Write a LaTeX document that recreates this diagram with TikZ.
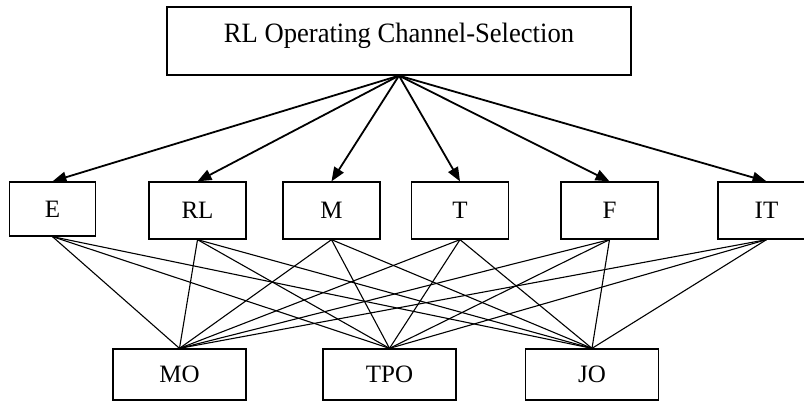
\documentclass[tikz,border=0pt]{standalone}
\usepackage{fontspec}
\setmainfont{Liberation Serif}
\newfontfamily\selfont[FakeStretch=0.95]{Liberation Serif}
\usetikzlibrary{arrows.meta,positioning}

\begin{document}
\begin{tikzpicture}[x=1pt,y=-1pt,
	box/.style={draw,line width=1.3pt,inner sep=0pt,minimum width=97pt,minimum height=57pt,font=\fontsize{25}{30}\selectfont},
	outbox/.style={box,minimum width=133pt,minimum height=51pt},
	arr/.style={line width=1.8pt,-{Triangle[length=14pt,width=11pt]}},
	link/.style={line width=1.1pt}]
	\useasboundingbox (0,0) rectangle (804,402);
	\node[box,minimum width=464pt,text height=35pt,text depth=33pt,font=\selfont\fontsize{28}{32}\selectfont] (sel) at (399,41) {RL Operating Channel-Selection};
	% criteria row
	\node[box,minimum width=86pt,minimum height=54pt] (e) at (52.5,209) {E};
	\foreach \n/\lab/\xx in {rl/RL/197.5,m/M/331.5,t/T/460,f/F/609.5,it/IT/766.5}
		\node[box] (\n) at (\xx,210.5) {\lab};
	% options row
	\foreach \n/\lab/\xx in {mo/MO/179.5,tpo/TPO/389.5,jo/JO/592}
		\node[outbox] (\n) at (\xx,374.5) {\lab};
	\foreach \n in {e,rl,m,t,f,it}
		\draw[arr] (sel.south) -- (\n.north);
	\foreach \a in {e,rl,m,t,f,it}
		\foreach \b in {mo,tpo,jo}
			\draw[link] (\a.south) -- (\b.north);
\end{tikzpicture}
\end{document}
